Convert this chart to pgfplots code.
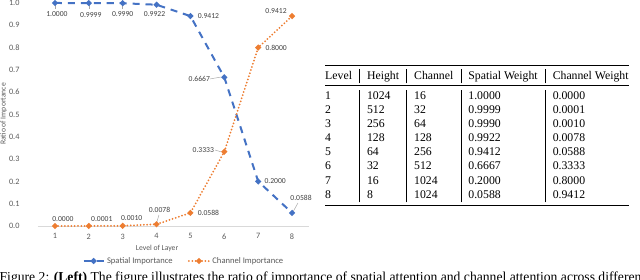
\documentclass[border=0pt]{standalone}
\usepackage{fontspec}
\setmainfont{Liberation Serif}
\newfontfamily\chartfont{Carlito}
\usepackage{booktabs}
\usepackage{pgfplots}
\pgfplotsset{compat=1.18}
\definecolor{sblue}{HTML}{4472C4}
\definecolor{corange}{HTML}{ED7D31}
\definecolor{tickgray}{HTML}{595959}
\definecolor{lblgray}{HTML}{404040}
\definecolor{axgray}{HTML}{D9D9D9}
\definecolor{leadgray}{HTML}{A6A6A6}
\newcommand\lblfont{\chartfont\fontsize{6.5}{7.5}\selectfont}
\newcommand\legfont{\chartfont\fontsize{7.3}{8}\selectfont}
\begin{document}
\begin{tikzpicture}[
  lbl/.style={font=\lblfont, text=lblgray, inner sep=0pt},
  lead/.style={draw=leadgray, line width=0.4pt}]
\path[use as bounding box] (0pt,0pt) rectangle (544pt,238pt);
\clip (0pt,0pt) rectangle (544pt,238pt);
\begin{axis}[
  at={(32.3pt,45.9pt)}, anchor=south west, scale only axis,
  width=230.35pt, height=189.55pt,
  xmin=0.5, xmax=8.5, ymin=0, ymax=1,
  clip=false,
  axis x line*=bottom, axis y line*=left,
  x axis line style={draw=axgray, line width=0.7pt, -},
  y axis line style={draw=none},
  xtick={1,2,3,4,5,6,7,8},
  ytick={0,0.1,0.2,0.3,0.4,0.5,0.6,0.7,0.8,0.9,1},
  major tick length=0pt,
  /pgf/number format/assume math mode=true,
  ticklabel style={font=\chartfont\fontsize{7}{8}\selectfont, text=tickgray},
  yticklabel style={/pgf/number format/.cd, fixed, fixed zerofill, precision=1, /tikz/.cd, xshift=-12.2pt},
  xticklabel style={yshift=-3pt},
  legend columns=2,
  legend style={at={(0.539,-0.157)}, anchor=center, draw=none, fill=none,
    font=\legfont, text=tickgray,
    /tikz/every even column/.append style={column sep=11pt}},
]
\addplot[sblue, line width=1.7pt, dash pattern=on 6pt off 5pt, mark=*, mark size=1.5pt, mark options={solid}]
  coordinates {(1,1.0000)(2,0.9999)(3,0.9990)(4,0.9922)(5,0.9412)(6,0.6667)(7,0.2000)(8,0.0588)};
\addlegendentry{Spatial Importance}
\addplot[corange, line width=1.7pt, line cap=round, dash pattern=on 0pt off 2.8pt, mark=*, mark size=1.5pt, mark options={solid}]
  coordinates {(1,0.0000)(2,0.0001)(3,0.0010)(4,0.0078)(5,0.0588)(6,0.3333)(7,0.8000)(8,0.9412)};
\addlegendentry{Channel Importance}
% spatial labels
\node[lbl, xshift=1.7pt, yshift=-9.35pt] at (axis cs:1,1.0000) {1.0000};
\node[lbl, xshift=1.7pt, yshift=-10.2pt] at (axis cs:2,0.9999) {0.9999};
\node[lbl, xshift=0pt, yshift=-9.35pt] at (axis cs:3,0.9990) {0.9990};
\node[lbl, xshift=-1.7pt, yshift=-7.65pt] at (axis cs:4,0.9922) {0.9922};
\node[lbl, xshift=15.3pt, yshift=0pt] at (axis cs:5,0.9412) {0.9412};
\node[lbl, xshift=-21.25pt, yshift=-1.7pt] at (axis cs:6,0.6667) {0.6667};
\node[lbl, xshift=14.45pt, yshift=0pt] at (axis cs:7,0.2000) {0.2000};
\node[lbl, xshift=7.65pt, yshift=12.75pt] at (axis cs:8,0.0588) {0.0588};
% channel labels
\node[lbl, xshift=6.8pt, yshift=5.95pt] at (axis cs:1,0.0000) {0.0000};
\node[lbl, xshift=11.05pt, yshift=5.95pt] at (axis cs:2,0.0001) {0.0001};
\node[lbl, xshift=7.65pt, yshift=6.8pt] at (axis cs:3,0.0010) {0.0010};
\node[lbl, xshift=2.55pt, yshift=11.9pt] at (axis cs:4,0.0078) {0.0078};
\node[lbl, xshift=15.3pt, yshift=0pt] at (axis cs:5,0.0588) {0.0588};
\node[lbl, xshift=-17.85pt, yshift=1.7pt] at (axis cs:6,0.3333) {0.3333};
\node[lbl, xshift=15.3pt, yshift=0pt] at (axis cs:7,0.8000) {0.8000};
\node[lbl, xshift=-13.6pt, yshift=4.25pt] at (axis cs:8,0.9412) {0.9412};
% leader lines
\draw[lead] ([xshift=-12.2pt,yshift=-1.4pt]axis cs:6,0.6667) -- ([xshift=-2.8pt,yshift=0.25pt]axis cs:6,0.6667);
\draw[lead] ([xshift=5pt,yshift=8.4pt]axis cs:8,0.0588) -- ([xshift=1.2pt,yshift=1.6pt]axis cs:8,0.0588);
\draw[lead] ([xshift=2pt,yshift=7.9pt]axis cs:4,0.0078) -- ([xshift=0.3pt,yshift=2pt]axis cs:4,0.0078);
\draw[lead] ([xshift=-7.9pt,yshift=1.4pt]axis cs:6,0.3333) -- ([xshift=-2.4pt,yshift=-0.25pt]axis cs:6,0.3333);
\draw[lead] ([yshift=-2pt]axis cs:1,1.0000) -- ([yshift=-5pt]axis cs:1,1.0000);
\draw[lead] ([yshift=-2pt]axis cs:2,0.9999) -- ([yshift=-5.5pt]axis cs:2,0.9999);
\draw[lead] ([yshift=-2pt]axis cs:3,0.9990) -- ([yshift=-5pt]axis cs:3,0.9990);
\end{axis}
\node[rotate=90, font=\lblfont, text=tickgray, inner sep=0pt] at (3pt,141.1pt) {Ratio of Importance};
\node[font=\lblfont, text=tickgray, inner sep=0pt] at (133.5pt,27.2pt) {Level of Layer};
% table
\node[anchor=north west, inner sep=0pt, font=\fontsize{10}{12}\selectfont] at (276.25pt,183.2pt) {%
\setlength\tabcolsep{6.4pt}%
\begin{tabular}{@{}l|l|l|l|l@{}}
\toprule
Level & Height & Channel & Spatial Weight & Channel Weight \\
\midrule
1 & 1024 & 16 & 1.0000 & 0.0000 \\
2 & 512 & 32 & 0.9999 & 0.0001 \\
3 & 256 & 64 & 0.9990 & 0.0010 \\
4 & 128 & 128 & 0.9922 & 0.0078 \\
5 & 64 & 256 & 0.9412 & 0.0588 \\
6 & 32 & 512 & 0.6667 & 0.3333 \\
7 & 16 & 1024 & 0.2000 & 0.8000 \\
8 & 8 & 1024 & 0.0588 & 0.9412 \\
\bottomrule
\end{tabular}};
% caption
\node[anchor=base west, inner sep=0pt, font=\fontsize{11.6}{13}\selectfont] at (-0.5pt,-1pt) {Figure 2: \textbf{(Left)} The figure illustrates the ratio of importance of spatial attention and channel attention across different levels};
\end{tikzpicture}
\end{document}
